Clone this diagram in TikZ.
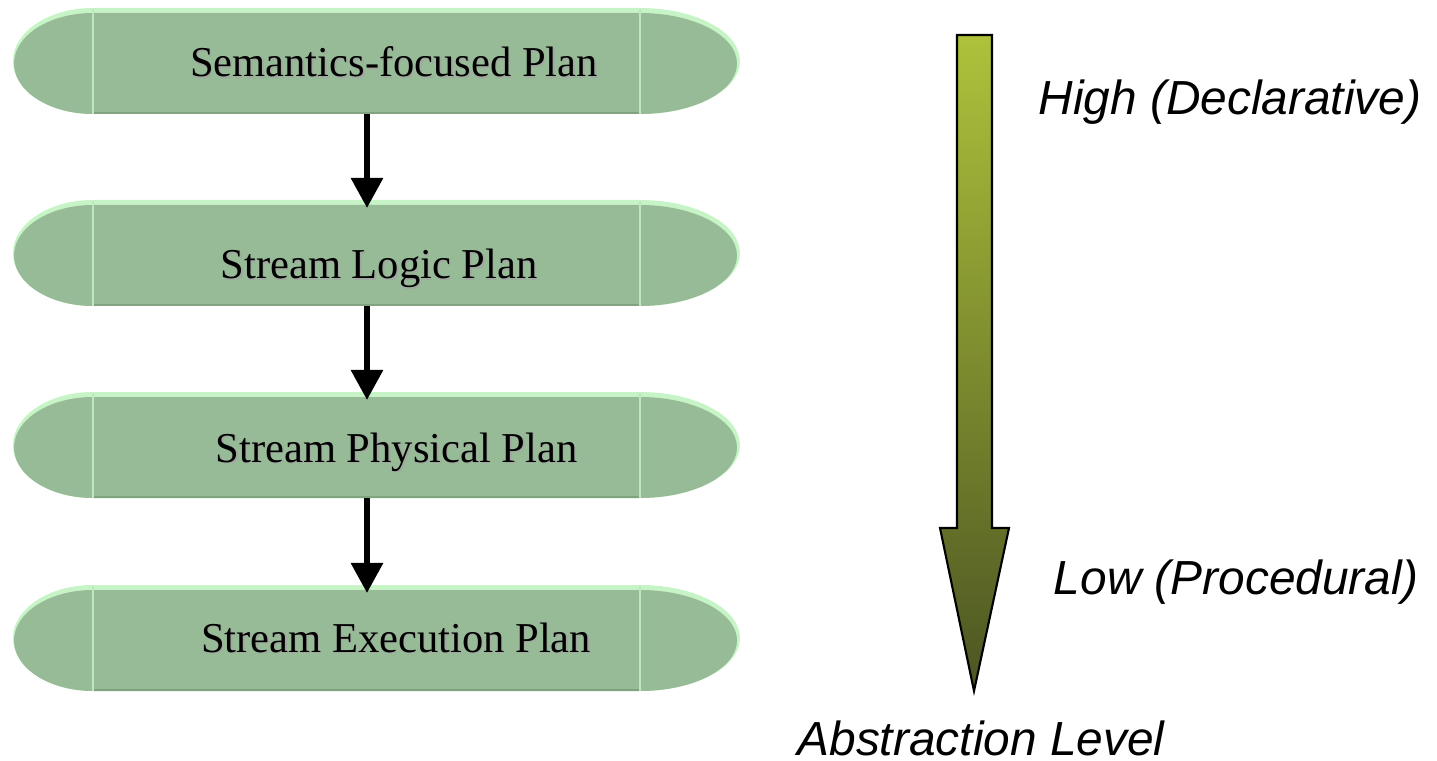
\documentclass[tikz,border=0pt]{standalone}
\usepackage{fontspec}
\setmainfont{Liberation Serif}
\newfontfamily\arialfont{Liberation Sans}
\usetikzlibrary{arrows.meta}
\definecolor{capfill}{HTML}{97BB97}
\definecolor{caplight}{HTML}{C6F4C6}
\definecolor{capsep}{HTML}{BCE8BC}
\definecolor{capdark}{HTML}{7FA47F}
\definecolor{shadowgray}{HTML}{A0A8A0}
\definecolor{arrtop}{HTML}{AFC23B}
\definecolor{arrbot}{HTML}{4B5522}
\tikzset{
  plantext/.style={font=\fontsize{12.1pt}{14pt}\selectfont, text=black, inner sep=0pt, anchor=base},
  planshadow/.style={plantext, text=shadowgray},
  flowarrow/.style={draw=black, line width=1.7pt, -{Triangle[width=0.31cm,length=0.3cm]}},
  leveltext/.style={font=\arialfont\itshape\fontsize{13.6pt}{16pt}\selectfont, inner sep=0pt, anchor=base},
}
\newcommand{\plancapsule}[1]{%
  \begin{scope}[shift={(0,-#1)}]
    \fill[caplight] (93,0) -- (640,0) arc[start angle=90,end angle=-90,x radius=100,y radius=53]
      -- (93,-106) arc[start angle=270,end angle=90,x radius=80,y radius=53] -- cycle;
    \fill[capfill] (93,-5) -- (640,-5) arc[start angle=90,end angle=-90,x radius=97,y radius=50.5]
      -- (93,-106) arc[start angle=270,end angle=90,x radius=79,y radius=50.5] -- cycle;
    \draw[capdark, line width=0.6pt] (93,-105.3) -- (640,-105.3);
    \draw[capsep, line width=0.5pt] (93,-1) -- (93,-106);
    \draw[capsep, line width=0.5pt] (640,-1) -- (640,-106);
  \end{scope}%
}
\begin{document}
\begin{tikzpicture}[x=0.01cm,y=0.01cm]
\useasboundingbox (0,0) rectangle (1437,-761);
% capsules
\plancapsule{8}
\plancapsule{200}
\plancapsule{392}
\plancapsule{585}
% text with shadows
\node[planshadow] (s1) at (395.5,-78.5) {Semantics-focused Plan};
\node[plantext] (t1) at (394,-77) {Semantics-focused Plan};
\node[planshadow] (s2) at (380.5,-280.5) {Stream Logic Plan};
\node[plantext] (t2) at (379,-279) {Stream Logic Plan};
\node[planshadow] (s3) at (398,-463.5) {Stream Physical Plan};
\node[plantext] (t3) at (396.5,-462) {Stream Physical Plan};
\node[planshadow] (s4) at (397.5,-653.5) {Stream Execution Plan};
\node[plantext] (t4) at (396,-652) {Stream Execution Plan};
% connector anchors
\coordinate (b1s) at (367,-114);
\coordinate (b2n) at (367,-208);
\coordinate (b2s) at (367,-306);
\coordinate (b3n) at (367,-400);
\coordinate (b3s) at (367,-498);
\coordinate (b4n) at (367,-593);
\draw[flowarrow] (b1s) -- (b2n);
\draw[flowarrow] (b2s) -- (b3n);
\draw[flowarrow] (b3s) -- (b4n);
% abstraction arrow
\shadedraw[top color=arrtop, bottom color=arrbot, draw=black, line width=0.6pt, line join=miter]
  (957,-35) -- (992,-35) -- (992,-528) -- (1009,-528) -- (974,-691) -- (940,-528) -- (957,-528) -- cycle;
\node[leveltext] (high) at (1230,-115) {High (Declarative)};
\node[leveltext] (low) at (1236,-594) {Low (Procedural)};
\node[leveltext] (abs) at (981,-755) {Abstraction Level};
\end{tikzpicture}
\end{document}
